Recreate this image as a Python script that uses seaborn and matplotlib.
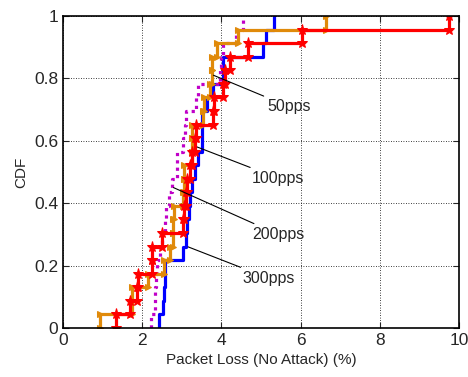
import numpy as np
import pandas as pd
import matplotlib
matplotlib.use("Agg")
import matplotlib.pyplot as plt
import seaborn as sns

# ---- data (packet loss samples, %) ----
red_300 = [1.35, 1.69, 1.86, 1.90, 2.24, 2.24, 2.49, 3.02, 3.05, 3.10, 3.12, 3.20,
           3.26, 3.33, 3.37, 3.80, 3.82, 4.04, 4.09, 4.22, 4.68, 6.03, 9.75]
orange_s = [0.93, 1.73, 1.73, 2.15, 2.55, 2.70, 2.78, 2.79, 2.80, 3.04, 3.05, 3.06,
            3.25, 3.26, 3.27, 3.54, 3.55, 3.72, 3.75, 3.77, 3.88, 4.43, 6.63]
blue_s = [2.43, 2.52, 2.55, 2.57, 2.58, 3.04, 3.10, 3.13, 3.17, 3.21, 3.27, 3.33,
          3.40, 3.50, 3.50, 3.52, 3.63, 3.80, 4.04, 4.04, 5.05, 5.13, 5.33]
magenta_s = [2.22, 2.33, 2.33, 2.35, 2.38, 2.45, 2.49, 2.58, 2.60, 2.68, 2.74, 2.87,
             2.88, 3.04, 3.08, 3.10, 3.37, 3.40, 3.96, 4.00, 4.04, 4.38, 4.54]

labels = ["50pps", "100pps", "200pps", "300pps"]
label_text_xy = [(5.15, 0.71), (4.77, 0.48), (4.77, 0.30), (4.52, 0.16)]
label_tip_xy = [(3.80, 0.81), (3.39, 0.58), (2.79, 0.45), (3.16, 0.26)]

xticks = [0, 2, 4, 6, 8, 10]
yticks = [0, 0.2, 0.4, 0.6, 0.8, 1]
ytick_labels = ["0", "0.2", "0.4", "0.6", "0.8", "1"]


def staircase(samples):
    s = np.sort(np.asarray(samples, dtype=float))
    n = len(s)
    levels = np.arange(0, n + 1) / n
    xs, ys = [], []
    for i, v in enumerate(s):
        xs += [v, v]
        ys += [levels[i], levels[i + 1]]
    return pd.DataFrame({"x": xs, "y": ys})


sns.set_style("ticks")
plt.rcParams["font.family"] = ["Liberation Sans", "DejaVu Sans"]

fig = plt.figure(figsize=(4.68, 3.77), dpi=100)
ax = fig.add_axes([0.1346, 0.1300, 0.9808 - 0.1346, 0.9576 - 0.1300])

series = [
    (blue_s, "#0000ff", "-", None, 0),
    (magenta_s, "#c000c8", (0, (1, 1.3)), None, 0),
    (orange_s, "#e08a0a", "-", ">", 5),
    (red_300, "#ff0000", "-", "*", 8),
]
for data, color, ls, mk, ms in series:
    df = staircase(data)
    kw = dict(x="x", y="y", data=df, sort=False, estimator=None, color=color,
              linewidth=2.3, ax=ax)
    line = sns.lineplot(**kw).lines[-1]
    line.set_linestyle(ls)
    if mk:
        line.set_marker(mk)
        line.set_markersize(ms)
        line.set_markeredgecolor(color)
        line.set_markerfacecolor(color)

for lab, txy, tip in zip(labels, label_text_xy, label_tip_xy):
    ax.annotate(lab, xy=tip, xytext=txy, fontsize=11.5, va="center", ha="left",
                arrowprops=dict(arrowstyle="-", color="black", lw=0.8,
                                shrinkA=0, shrinkB=0))

ax.set_xlim(0, 10)
ax.set_ylim(0, 1)
ax.set_xticks(xticks)
ax.set_xticklabels([str(t) for t in xticks])
ax.set_yticks(yticks)
ax.set_yticklabels(ytick_labels)
ax.grid(True, linestyle=(0, (1, 2)), color="black", linewidth=0.6)
ax.tick_params(direction="in", top=True, right=True, labelsize=12.5, length=4,
               width=0.8)
for sp in ax.spines.values():
    sp.set_linewidth(1.2)
    sp.set_color("black")
ax.set_xlabel("Packet Loss (No Attack) (%)", fontsize=11)
ax.set_ylabel("CDF", fontsize=11)

fig.savefig("out.png", dpi=100)
